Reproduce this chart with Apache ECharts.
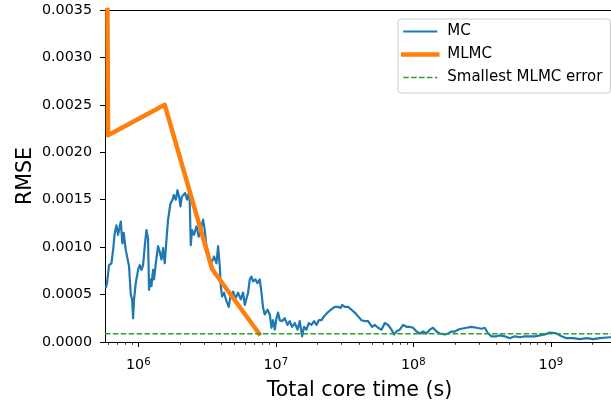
<!DOCTYPE html>
<html>
<head>
<meta charset="utf-8">
<script src="https://cdn.jsdelivr.net/npm/echarts@6/dist/echarts.min.js"></script>
<style>
  html, body { margin: 0; padding: 0; background: #fff; }
  #chart { width: 611px; height: 409px; }
</style>
</head>
<body>
<div id="chart"></div>
<script>
// Plain Monte Carlo: RMSE against accumulated core time (s)
const mcTime = [
  5.81e5, 5.93e5, 6.13e5, 6.38e5, 6.56e5, 6.75e5, 6.94e5, 7.13e5, 7.34e5, 7.46e5,
  7.67e5, 7.84e5, 8.11e5, 8.29e5, 8.57e5, 8.82e5, 9.02e5, 9.17e5, 9.32e5, 9.59e5,
  9.97e5, 1.025e6, 1.055e6, 1.084e6, 1.115e6, 1.147e6, 1.178e6, 1.198e6, 1.227e6, 1.247e6,
  1.281e6, 1.303e6, 1.341e6, 1.393e6, 1.433e6, 1.475e6, 1.515e6, 1.558e6, 1.604e6, 1.647e6,
  1.715e6, 1.773e6, 1.812e6, 1.874e6, 1.928e6, 1.981e6, 2.027e6, 2.072e6, 2.117e6, 2.19e6,
  2.264e6, 2.357e6, 2.409e6, 2.462e6, 2.546e6, 2.65e6, 2.754e6, 2.848e6, 2.96e6, 3.045e6,
  3.133e6, 3.218e6, 3.311e6, 3.441e6, 3.558e6, 3.704e6, 3.805e6, 3.914e6, 3.981e6, 4.069e6,
  4.207e6, 4.38e6, 4.551e6, 4.706e6, 4.891e6, 5.092e6, 5.318e6, 5.565e6, 5.783e6, 5.951e6,
  6.123e6, 6.289e6, 6.471e6, 6.658e6, 6.838e6, 7.119e6, 7.361e6, 7.65e6, 7.87e6, 8.083e6,
  8.318e6, 8.703e6, 9.045e6, 9.305e6, 9.559e6, 9.833e6, 1.012e7, 1.039e7, 1.069e7, 1.111e7,
  1.163e7, 1.216e7, 1.264e7, 1.313e7, 1.375e7, 1.438e7, 1.495e7, 1.554e7, 1.606e7, 1.672e7,
  1.738e7, 1.818e7, 1.899e7, 1.977e7, 2.055e7, 2.15e7, 2.245e7, 2.377e7, 2.512e7, 2.686e7,
  2.838e7, 2.969e7, 3.035e7, 3.175e7, 3.355e7, 3.552e7, 3.754e7, 3.967e7, 4.201e7, 4.439e7,
  4.691e7, 4.826e7, 5.015e7, 5.248e7, 5.546e7, 5.871e7, 6.204e7, 6.556e7, 6.941e7, 7.25e7,
  7.546e7, 7.974e7, 8.432e7, 8.922e7, 9.43e7, 9.966e7, 1.055e8, 1.115e8, 1.178e8, 1.247e8,
  1.318e8, 1.393e8, 1.475e8, 1.558e8, 1.695e8, 1.791e8, 1.896e8, 2.004e8, 2.118e8, 2.241e8,
  2.438e8, 2.651e8, 2.882e8, 3.133e8, 3.311e8, 3.5e8, 3.705e8, 4.029e8, 4.257e8, 4.629e8,
  5.032e8, 5.472e8, 5.95e8, 6.47e8, 7.035e8, 7.649e8, 8.318e8, 9.045e8, 9.833e8, 1.1e9,
  1.196e9, 1.301e9, 1.453e9, 1.625e9, 1.818e9, 2.031e9, 2.272e9, 2.7e9, 2.88e9
];
const mcRmse = [
  0.00057, 0.00062, 0.00081, 0.00083, 0.00097, 0.00115, 0.00123, 0.00113, 0.00122, 0.00127,
  0.00104, 0.00115, 0.00097, 0.00099, 0.00080, 0.00050, 0.00045, 0.00025, 0.00045, 0.00062,
  0.00076, 0.00081, 0.00076, 0.00081, 0.00101, 0.00118, 0.00109, 0.00055, 0.00066, 0.00059,
  0.00076, 0.00066, 0.00083, 0.00101, 0.00095, 0.00087, 0.00099, 0.00083, 0.00108, 0.00129,
  0.00146, 0.00150, 0.00155, 0.00150, 0.00160, 0.00153, 0.00143, 0.00153, 0.00152, 0.00157,
  0.00150, 0.00160, 0.00102, 0.00118, 0.00113, 0.00122, 0.00111, 0.00118, 0.00129, 0.00118,
  0.00101, 0.00095, 0.00087, 0.00085, 0.00090, 0.00083, 0.00101, 0.00080, 0.00059, 0.00048,
  0.00052, 0.00043, 0.00037, 0.00050, 0.00053, 0.00046, 0.00052, 0.00045, 0.00052, 0.00039,
  0.00041, 0.00052, 0.00066, 0.00069, 0.00064, 0.00066, 0.00062, 0.00066, 0.00052, 0.00036,
  0.00029, 0.00034, 0.00029, 0.00015, 0.00023, 0.00013, 0.00025, 0.00031, 0.00023, 0.00022,
  0.00025, 0.00018, 0.00022, 0.00016, 0.00020, 0.00013, 0.00022, 0.00006, 0.00016, 0.00013,
  0.00020, 0.00018, 0.00022, 0.00018, 0.00023, 0.00023, 0.00027, 0.00031, 0.00034, 0.00037,
  0.00037, 0.00036, 0.00039, 0.00037, 0.00037, 0.00034, 0.00031, 0.00027, 0.00023, 0.00022,
  0.00022, 0.00023, 0.00016, 0.00018, 0.00015, 0.00013, 0.00020, 0.00018, 0.00013, 0.00008,
  0.00011, 0.00013, 0.00018, 0.00016, 0.00016, 0.00015, 0.00011, 0.00009, 0.00011, 0.00009,
  0.00013, 0.00015, 0.00011, 0.00009, 0.00008, 0.00009, 0.00011, 0.00011, 0.00013, 0.00014,
  0.00015, 0.00016, 0.00015, 0.00014, 0.00015, 0.00009, 0.00006, 0.00006, 0.00007, 0.00006,
  0.00004, 0.00006, 0.00005, 0.00006, 0.00006, 0.00006, 0.00007, 0.00008, 0.00010, 0.00009,
  0.00006, 0.00004, 0.00004, 0.00003, 0.00004, 0.00003, 0.00004, 0.00005, 0.00005
];

// Multilevel Monte Carlo estimates
const mlmcTime = [5.80e5, 6.03e5, 1.558e6, 3.44e6, 7.57e6];
const mlmcRmse = [0.0070, 0.00218, 0.0025, 0.00077, 0.0000874];

// Axis limits and tick labels
const xLimits = [5.73e5, 2.88e9];
const yLimits = [0, 0.0035];
const yStep = 0.0005;
const xMajorTicks = [1e6, 1e7, 1e8, 1e9];

const smallestMlmc = Math.min(...mlmcRmse);

// minor ticks at 2..9 × 10^n inside the x range
const xMinorTicks = [];
for (let e = 5; e <= 9; e++) {
  for (let k = 2; k <= 9; k++) {
    const v = k * Math.pow(10, e);
    if (v > xLimits[0] && v < xLimits[1]) xMinorTicks.push(v);
  }
}

const FONT = 'DejaVu Sans';
const TICK_FS = 14.3;
const TITLE_FS = 20.6;

const chart = echarts.init(document.getElementById('chart'), null, { renderer: 'canvas' });

chart.setOption({
  animation: false,
  backgroundColor: '#ffffff',
  textStyle: { fontFamily: FONT },
  grid: {
    left: 105, top: 10, right: -3, bottom: 67,
    outerBoundsMode: 'none',
    containLabel: false,
    show: false
  },
  legend: {
    orient: 'vertical',
    left: 398, top: 19,
    padding: [5, 8, 8, 3],
    itemWidth: 34, itemHeight: 14, itemGap: 8,
    backgroundColor: 'rgba(255,255,255,0.8)',
    borderColor: '#cccccc', borderWidth: 1, borderRadius: 3,
    itemStyle: { opacity: 0 },
    lineStyle: { width: 'inherit' },
    textStyle: { fontFamily: FONT, fontSize: 15, color: '#000', lineHeight: 14, padding: [0, 0, 0, 5] },
    data: ['MC', 'MLMC', 'Smallest MLMC error']
  },
  xAxis: [
    {
      type: 'log', logBase: 10,
      min: xLimits[0], max: xLimits[1],
      name: 'Total core time (s)',
      nameLocation: 'middle', nameGap: 38,
      nameTextStyle: { fontFamily: FONT, fontSize: TITLE_FS, color: '#000' },
      axisLine: { show: true, onZero: false, lineStyle: { color: '#000', width: 1 } },
      axisTick: { show: true, length: 5, customValues: xMajorTicks, lineStyle: { color: '#000', width: 1 } },
      axisLabel: {
        customValues: xMajorTicks,
        margin: 15,
        formatter: v => '{b|10}{s|' + Math.round(Math.log10(v)) + '}',
        rich: {
          b: { fontFamily: FONT, fontSize: TICK_FS, color: '#000' },
          s: { fontFamily: FONT, fontSize: 10, color: '#000', padding: [0, 0, 7, 0] }
        }
      },
      splitLine: { show: false },
      minorTick: { show: false }
    },
    {
      // top spine of the plot frame
      type: 'value', position: 'top', min: 0, max: 1,
      axisLine: { show: true, onZero: false, lineStyle: { color: '#000', width: 1 } },
      axisTick: { show: false },
      axisLabel: { show: false },
      splitLine: { show: false }
    }
  ],
  yAxis: {
    type: 'value',
    min: yLimits[0], max: yLimits[1], interval: yStep,
    name: 'RMSE',
    nameLocation: 'middle', nameGap: 69,
    nameMoveOverlap: false,
    nameTextStyle: { fontFamily: FONT, fontSize: TITLE_FS, color: '#000' },
    axisLine: { show: true, lineStyle: { color: '#000', width: 1 } },
    axisTick: { show: true, length: 5, lineStyle: { color: '#000', width: 1 } },
    axisLabel: {
      margin: 13,
      fontFamily: FONT, fontSize: TICK_FS, color: '#000',
      formatter: v => v.toFixed(4)
    },
    splitLine: { show: false }
  },
  series: [
    {
      name: 'MC', type: 'line',
      data: mcTime.map((t, i) => [t, mcRmse[i]]),
      showSymbol: false, symbol: 'none',
      lineStyle: { color: '#1f77b4', width: 2.2, join: 'round' },
      itemStyle: { color: '#1f77b4' }
    },
    {
      name: 'MLMC', type: 'line',
      data: mlmcTime.map((t, i) => [t, mlmcRmse[i]]),
      showSymbol: false, symbol: 'none',
      lineStyle: { color: '#ff7f0e', width: 4.5, join: 'round', cap: 'square' },
      itemStyle: { color: '#ff7f0e' }
    },
    {
      name: 'Smallest MLMC error', type: 'line',
      data: [[xLimits[0], smallestMlmc], [xLimits[1], smallestMlmc]],
      showSymbol: false, symbol: 'none',
      lineStyle: { color: '#2ca02c', width: 1.5, type: [5.5, 2.4] },
      itemStyle: { color: '#2ca02c' }
    },
    {
      // short minor tick marks under the log x axis
      name: 'minor ticks', type: 'custom',
      clip: false, silent: true,
      data: xMinorTicks.map(v => [v, yLimits[0]]),
      renderItem: (params, api) => {
        const p = api.coord([api.value(0), api.value(1)]);
        const x = Math.round(p[0]) + 0.5;
        return {
          type: 'line',
          shape: { x1: x, y1: p[1], x2: x, y2: p[1] + 2.8 },
          style: { stroke: '#000', lineWidth: 0.8 }
        };
      }
    }
  ]
});
</script>
</body>
</html>
